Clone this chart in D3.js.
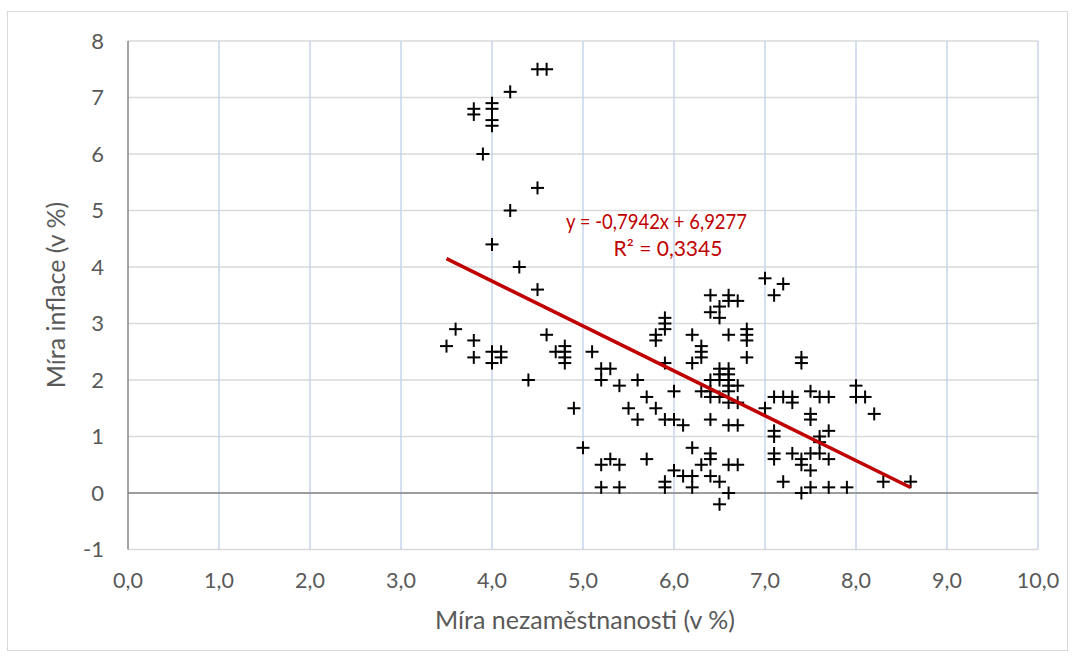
<!DOCTYPE html>
<html><head><meta charset="utf-8">
<script src="https://cdn.jsdelivr.net/npm/d3@7"></script>
<style>body{margin:0;background:#fff;} svg{display:block;}</style>
</head><body>
<svg id="c" width="1076" height="660"></svg>
<script>
const unemployment = [
 4.5,4.6,4.2,3.8,3.8,4.0,4.0,4.0,4.0,3.9,4.5,4.2,4.0,4.3,4.5,
 3.6,3.5,3.8,3.8,4.0,4.0,4.1,4.1,4.4,4.6,4.7,4.8,4.8,4.8,4.8,4.9,
 5.0,5.1,5.2,5.3,5.2,5.4,5.6,5.7,5.5,5.8,5.6,5.9,6.0,6.1,6.0,5.8,5.8,5.9,5.9,5.9,5.9,
 5.2,5.3,5.4,5.2,5.4,5.7,5.9,5.9,6.0,6.1,6.2,6.2,6.2,6.3,6.4,6.4,6.4,6.5,6.6,6.5,6.6,6.7,
 6.2,6.2,6.3,6.3,6.3,6.4,6.4,6.5,6.5,6.6,6.6,6.7,6.6,6.8,6.8,6.8,6.8,
 6.5,6.6,6.5,6.6,6.4,6.5,6.6,6.7,6.6,6.3,6.4,6.6,6.4,6.5,6.6,6.7,6.4,6.6,6.7,
 7.0,7.2,7.1,7.4,7.4,7.0,7.1,7.2,7.3,7.3,7.5,7.6,7.7,7.5,7.5,7.1,7.1,7.7,7.6,7.6,8.0,8.0,8.1,8.2,
 7.1,7.1,7.3,7.4,7.4,7.5,7.6,7.7,7.5,7.2,7.4,7.5,7.7,7.9,8.3,8.6
];
const inflation = [
 7.5,7.5,7.1,6.8,6.7,6.9,6.8,6.6,6.5,6.0,5.4,5.0,4.4,4.0,3.6,
 2.9,2.6,2.7,2.4,2.5,2.3,2.5,2.4,2.0,2.8,2.5,2.6,2.5,2.4,2.3,1.5,
 0.8,2.5,2.2,2.2,2.0,1.9,2.0,1.7,1.5,1.5,1.3,1.3,1.3,1.2,1.8,2.8,2.7,3.1,3.0,2.9,2.3,
 0.5,0.6,0.5,0.1,0.1,0.6,0.2,0.1,0.4,0.3,0.8,0.3,0.1,0.5,0.7,0.6,0.3,0.2,0.0,-0.2,0.5,0.5,
 2.8,2.3,2.6,2.5,2.4,3.5,3.2,3.3,3.1,3.5,3.4,3.4,2.8,2.9,2.8,2.7,2.4,
 2.2,2.2,2.1,2.1,2.0,2.0,2.0,1.9,1.9,1.8,1.8,1.8,1.7,1.7,1.6,1.6,1.3,1.2,1.2,
 3.8,3.7,3.5,2.4,2.3,1.5,1.7,1.7,1.7,1.6,1.8,1.7,1.7,1.4,1.3,1.1,1.0,1.1,1.0,0.9,1.9,1.7,1.7,1.4,
 0.7,0.6,0.7,0.6,0.5,0.7,0.7,0.6,0.4,0.2,0.0,0.1,0.1,0.1,0.2,0.2
];
const xTicks = [0,1,2,3,4,5,6,7,8,9,10];
const yTicks = [-1,0,1,2,3,4,5,6,7,8];
const trendSlope = -0.7942, trendIntercept = 6.9277;
const trendRange = [3.5, 8.6];
const equationText = "y = -0,7942x + 6,9277";
const r2Text = "R² = 0,3345";
const xTitle = "Míra nezaměstnanosti (v %)";
const yTitle = "Míra inflace (v %)";

const svg = d3.select("#c");
const font = "Lato, 'Open Sans', sans-serif";
const x = d3.scaleLinear().domain([0,10]).range([128,1038]);
const y = d3.scaleLinear().domain([-1,8]).range([549.5,41]);
const fmt = d => d3.format(".1f")(d).replace(".", ",");

svg.append("rect").attr("x",7.5).attr("y",11.5).attr("width",1060).attr("height",639)
  .attr("fill","#fff").attr("stroke","#d9d9d9").attr("stroke-width",1);

svg.append("g").selectAll("line").data(yTicks).join("line")
  .attr("x1",x(0)).attr("x2",x(10)).attr("y1",d=>y(d)).attr("y2",d=>y(d))
  .attr("stroke","#d9d9d9").attr("stroke-width",1.5);
svg.append("g").selectAll("line").data(xTicks.filter(d=>d>0)).join("line")
  .attr("x1",d=>x(d)).attr("x2",d=>x(d)).attr("y1",y(8)).attr("y2",y(-1))
  .attr("stroke","#c6d6ec").attr("stroke-width",1.5);
svg.append("line").attr("x1",x(0)).attr("x2",x(10)).attr("y1",y(0)).attr("y2",y(0))
  .attr("stroke","#868686").attr("stroke-width",1.5);
svg.append("line").attr("x1",x(0)).attr("x2",x(0)).attr("y1",y(8)).attr("y2",y(-1))
  .attr("stroke","#868686").attr("stroke-width",1.5);

svg.append("g").selectAll("text").data(yTicks).join("text")
  .attr("x",104).attr("y",d=>y(d)).attr("dy","0.35em").attr("text-anchor","end")
  .attr("font-family",font).attr("font-size",22).attr("fill","#595959").text(d=>d);
svg.append("g").selectAll("text").data(xTicks).join("text")
  .attr("x",d=>x(d)).attr("y",588).attr("text-anchor","middle")
  .attr("font-family",font).attr("font-size",21.5).attr("fill","#595959").text(fmt);

svg.append("text").attr("x",585).attr("y",629).attr("text-anchor","middle")
  .attr("font-family",font).attr("font-size",25).attr("fill","#595959").text(xTitle);
svg.append("text").attr("transform","translate(65,295) rotate(-90)").attr("text-anchor","middle")
  .attr("font-family",font).attr("font-size",25).attr("fill","#595959").text(yTitle);

const pts = unemployment.map((u,i)=>({u, v: inflation[i]}));
const g = svg.append("g").attr("stroke","#000").attr("stroke-width",2);
pts.forEach(p=>{
  const cx = x(p.u), cy = y(p.v);
  g.append("line").attr("x1",cx-6.5).attr("x2",cx+6.5).attr("y1",cy).attr("y2",cy);
  g.append("line").attr("x1",cx).attr("x2",cx).attr("y1",cy-6.5).attr("y2",cy+6.5);
});

svg.append("line")
  .attr("x1",x(trendRange[0])).attr("y1",y(trendSlope*trendRange[0]+trendIntercept))
  .attr("x2",x(trendRange[1])).attr("y2",y(trendSlope*trendRange[1]+trendIntercept))
  .attr("stroke","#c00000").attr("stroke-width",3.5);

svg.append("text").attr("x",566).attr("y",229)
  .attr("textLength",181).attr("lengthAdjust","spacingAndGlyphs")
  .attr("font-family",font).attr("font-size",21).attr("fill","#c00000").text(equationText);
svg.append("text").attr("x",668).attr("y",256).attr("text-anchor","middle")
  .attr("font-family",font).attr("font-size",21).attr("fill","#c00000").text(r2Text);
</script>
</body></html>
